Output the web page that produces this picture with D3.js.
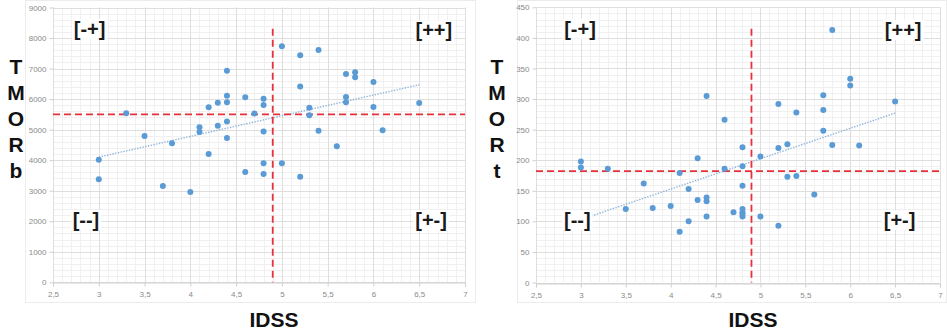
<!DOCTYPE html>
<html>
<head>
<meta charset="utf-8">
<script src="https://cdn.jsdelivr.net/npm/d3@7"></script>
<style>
  body { margin: 0; background: #fff; }
</style>
</head>
<body>
<div id="theChart"></div>
<script>
// IDSS tick values (shared by both panels)
const xTicks = [2.5, 3, 3.5, 4, 4.5, 5, 5.5, 6, 6.5, 7]

// left panel: TMORb vs IDSS
const bIdss = [3.0, 3.3, 3.5, 3.8, 4.1, 4.1, 4.2, 4.2, 4.3, 4.3, 4.4, 4.4, 4.4, 4.4, 4.4,
	4.6, 4.8, 4.8, 4.7, 4.8, 4.8, 4.6, 4.8, 5.0, 5.2, 5.0, 5.2, 5.4, 5.7, 5.8, 5.8, 6.0,
	5.2, 5.7, 5.7, 5.3, 5.3, 6.0, 6.5, 5.4, 6.1, 5.6, 3.0, 3.7, 4.0]
const bTmor = [4010, 5535, 4790, 4550, 5075, 4920, 5730, 4200, 5880, 5130, 6930, 6110, 5895, 5270, 4725,
	6060, 6015, 5810, 5525, 4935, 3900, 3610, 3545, 3900, 3460, 7730, 7435, 7610, 6820, 6880, 6715, 6560,
	6410, 6070, 5895, 5720, 5470, 5740, 5870, 4965, 4980, 4455, 3375, 3155, 2960]
const bTicks = [0, 1000, 2000, 3000, 4000, 5000, 6000, 7000, 8000, 9000]
const bTrend = [[3, 4100], [6.5, 6470]]
const bCut = { x: 4.9, y: 5500, top: 8300 }

// right panel: TMORt vs IDSS
const tIdss = [3.0, 3.0, 3.3, 4.3, 4.4, 3.5, 3.7, 3.8, 4.0, 4.1, 4.1, 4.2, 4.2, 4.3, 4.4, 4.4, 4.4,
	4.6, 4.8, 4.8, 4.7, 4.8, 4.8, 4.8, 4.8, 5.0, 5.2, 5.3, 5.4, 5.6, 4.6, 4.8, 5.0, 5.2, 5.2,
	5.3, 5.4, 5.7, 5.7, 5.7, 5.8, 5.8, 6.0, 6.0, 6.1, 6.5]
const tTmor = [198, 188, 186, 203, 305, 120, 162, 122, 125, 179, 83, 153, 100, 135, 139, 133, 108,
	186, 190, 158, 115, 120, 115, 112, 108, 108, 93, 173, 174, 144, 266, 221, 206, 292, 220,
	226, 278, 306, 282, 248, 413, 225, 333, 322, 224, 296]
const tTicks = [0, 50, 100, 150, 200, 250, 300, 350, 400, 450]
const tTrend = [[3, 103], [6.5, 277]]
const tCut = { x: 4.9, y: 182, top: 415 }

const quadrants = ["[-+]", "[++]", "[--]", "[+-]"]

const W = 947
const H = 333

const svg = d3
	.select("#theChart")
	.append("svg")
	.attr("width", W)
	.attr("height", H)

function drawPanel(opt) {
	const { frame, plot, yTicks, trend, cut, letters, quad } = opt
	const yMax = yTicks[yTicks.length - 1]
	const yStep = yTicks[1] - yTicks[0]

	// outer chart box
	svg.append("rect")
		.attr("x", frame[0] + 0.5)
		.attr("y", frame[1] + 0.5)
		.attr("width", frame[2] - frame[0])
		.attr("height", frame[3] - frame[1])
		.attr("fill", "#fff")
		.attr("stroke", "#ececec")

	const x = d3.scaleLinear().domain([2.5, 7]).range([plot.left, plot.right])
	const y = d3.scaleLinear().domain([0, yMax]).range([plot.bottom, plot.top])

	const g = svg.append("g")

	// minor grid
	const minorX = d3.range(25, 71).map(d => d / 10)
	const minorY = d3.range(0, yMax + 0.001, yStep / 5)
	g.selectAll(".mx")
		.data(minorX)
		.enter()
		.append("line")
		.attr("x1", d => Math.round(x(d)) + 0.5)
		.attr("x2", d => Math.round(x(d)) + 0.5)
		.attr("y1", plot.top)
		.attr("y2", plot.bottom)
		.attr("stroke", "#f0f0f0")
	g.selectAll(".my")
		.data(minorY)
		.enter()
		.append("line")
		.attr("x1", plot.left)
		.attr("x2", plot.right)
		.attr("y1", d => Math.round(y(d)) + 0.5)
		.attr("y2", d => Math.round(y(d)) + 0.5)
		.attr("stroke", "#f0f0f0")

	// major grid
	g.selectAll(".gx")
		.data(xTicks)
		.enter()
		.append("line")
		.attr("x1", d => Math.round(x(d)) + 0.5)
		.attr("x2", d => Math.round(x(d)) + 0.5)
		.attr("y1", plot.top)
		.attr("y2", plot.bottom)
		.attr("stroke", "#dedede")
	g.selectAll(".gy")
		.data(yTicks)
		.enter()
		.append("line")
		.attr("x1", plot.left)
		.attr("x2", plot.right)
		.attr("y1", d => Math.round(y(d)) + 0.5)
		.attr("y2", d => Math.round(y(d)) + 0.5)
		.attr("stroke", "#dedede")

	// axes (excel style, decimal comma)
	const fmt = d => String(d).replace(".", ",")
	const xAxis = svg.append("g")
		.attr("transform", `translate(0,${Math.round(plot.bottom) + 0.5})`)
		.call(d3.axisBottom(x).tickValues(xTicks).tickSize(4).tickPadding(5).tickFormat(fmt))
	const yAxis = svg.append("g")
		.attr("transform", `translate(${Math.round(plot.left) + 0.5},0)`)
		.call(d3.axisLeft(y).tickValues(yTicks).tickSize(4).tickPadding(3).tickFormat(d => String(d)))
	;[xAxis, yAxis].forEach(a => {
		a.select(".domain").attr("stroke", "#cfcfcf")
		a.selectAll(".tick line").attr("stroke", "#cfcfcf")
		a.selectAll("text")
			.attr("fill", "#8a8a8a")
			.style("font-family", "Liberation Sans, Arial, sans-serif")
			.style("font-size", "8px")
	})
	yAxis.select(".domain").remove()

	// trendline
	svg.append("line")
		.attr("x1", x(trend[0][0]))
		.attr("y1", y(trend[0][1]))
		.attr("x2", x(trend[1][0]))
		.attr("y2", y(trend[1][1]))
		.attr("stroke", "#8fb4db")
		.attr("stroke-width", 1.4)
		.attr("stroke-dasharray", "1.4,1.4")

	// red cut-off lines
	svg.append("line")
		.attr("x1", x(2.5))
		.attr("x2", x(7))
		.attr("y1", y(cut.y))
		.attr("y2", y(cut.y))
		.attr("stroke", "#e8303a")
		.attr("stroke-width", 1.8)
		.attr("stroke-dasharray", "7,4")
	svg.append("line")
		.attr("x1", x(cut.x))
		.attr("x2", x(cut.x))
		.attr("y1", y(cut.top))
		.attr("y2", y(0))
		.attr("stroke", "#e8303a")
		.attr("stroke-width", 1.8)
		.attr("stroke-dasharray", "7,4")

	// points
	svg.selectAll(null)
		.data(opt.xv.map((d, i) => [d, opt.yv[i]]))
		.enter()
		.append("circle")
		.attr("cx", d => x(d[0]))
		.attr("cy", d => y(d[1]))
		.attr("r", 3)
		.attr("fill", "#5b9bd5")

	// quadrant labels, white box behind
	quad.forEach((q, i) => {
		const lg = svg.append("g")
		const t = lg.append("text")
			.attr("x", x(q[0]))
			.attr("y", y(q[1]))
			.attr("text-anchor", "middle")
			.attr("dominant-baseline", "central")
			.style("font-family", "Liberation Sans, Arial, sans-serif")
			.style("font-weight", "bold")
			.style("font-size", "20px")
			.attr("fill", "#1a1a1a")
			.text(quadrants[i])
		const bb = t.node().getBBox()
		lg.insert("rect", "text")
			.attr("x", bb.x - 2)
			.attr("y", bb.y + 1)
			.attr("width", bb.width + 4)
			.attr("height", bb.height - 2)
			.attr("fill", "#fff")
	})

	// axis titles
	svg.append("text")
		.attr("x", (plot.left + plot.right) / 2 + 15)
		.attr("y", 327)
		.attr("text-anchor", "middle")
		.style("font-family", "Liberation Sans, Arial, sans-serif")
		.style("font-weight", "bold")
		.style("font-size", "21px")
		.attr("fill", "#111")
		.text("IDSS")

	svg.selectAll(null)
		.data(letters)
		.enter()
		.append("text")
		.attr("x", opt.lettersX)
		.attr("y", (d, i) => 74 + i * 26)
		.attr("text-anchor", "middle")
		.style("font-family", "Liberation Sans, Arial, sans-serif")
		.style("font-weight", "bold")
		.style("font-size", "21px")
		.attr("fill", "#111")
		.text(d => d)
}

drawPanel({
	frame: [25, 0, 475, 302],
	plot: { left: 53, right: 465, top: 7.5, bottom: 282.3 },
	xv: bIdss,
	yv: bTmor,
	yTicks: bTicks,
	trend: bTrend,
	cut: bCut,
	letters: ["T", "M", "O", "R", "b"],
	lettersX: 16,
	quad: [[2.9, 8300], [6.66, 8250], [2.86, 2040], [6.63, 2040]],
})

drawPanel({
	frame: [517, 0, 946, 302],
	plot: { left: 536, right: 940, top: 7.3, bottom: 282.5 },
	xv: tIdss,
	yv: tTmor,
	yTicks: tTicks,
	trend: tTrend,
	cut: tCut,
	letters: ["T", "M", "O", "R", "t"],
	lettersX: 497,
	quad: [[2.99, 415], [6.59, 413], [2.96, 102], [6.55, 102]],
})
</script>
</body>
</html>
